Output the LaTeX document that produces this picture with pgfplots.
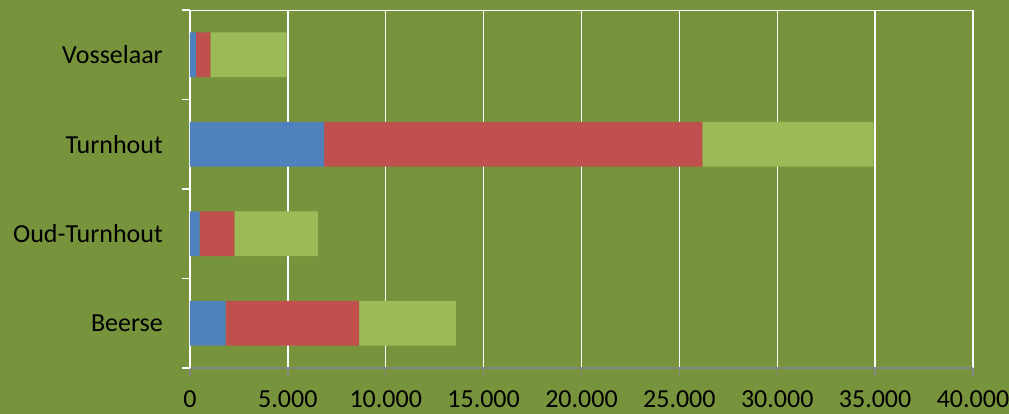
\documentclass[border=0pt]{standalone}
\usepackage{pgfplots}
\pgfplotsset{compat=1.18}
\usepackage{fontspec}
\setmainfont{Carlito}
\definecolor{bg}{HTML}{77933C}
\definecolor{sblue}{HTML}{4F81BD}
\definecolor{sred}{HTML}{C0504D}
\definecolor{sgreen}{HTML}{9BBB59}
\definecolor{axgray}{HTML}{868686}
\begin{document}
\begin{tikzpicture}
\fill[bg] (-190bp,-46bp) rectangle (819bp,368bp);
\begin{axis}[
  at={(0,0)}, anchor=south west,
  scale only axis, width=783bp, height=358bp,
  xbar stacked, bar width=0.5,
  xmin=0, xmax=40000, ymin=-0.5, ymax=3.5,
  xtick={0,5000,10000,15000,20000,25000,30000,35000,40000},
  scaled x ticks=false,
  /pgf/number format/1000 sep={.},
  /pgf/number format/assume math mode=true,
  ytick={0,1,2,3},
  yticklabels={Beerse,Oud-Turnhout,Turnhout,Vosselaar},
  minor ytick={-0.5,0.5,1.5,2.5,3.5},
  axis lines*=left,
  x axis line style={axgray, line width=1.5bp},
  y axis line style={white, line width=1.5bp},
  xmajorgrids, major x grid style={white, line width=1.5bp},
  tick align=outside,
  major tick length=8bp, minor tick length=8bp,
  xtick style={axgray, line width=1.5bp},
  major y tick style={draw=none},
  minor y tick style={white, line width=1.5bp},
  ticklabel style={font=\fontsize{26bp}{30bp}\selectfont, text=black, inner sep=0pt},
  xticklabel style={yshift=-14bp},
  yticklabel style={xshift=-19bp},
]
\addplot[fill=sblue, draw=none] coordinates {(1825,0) (495,1) (6850,2) (300,3)};
\addplot[fill=sred, draw=none] coordinates {(6815,0) (1770,1) (19325,2) (740,3)};
\addplot[fill=sgreen, draw=none] coordinates {(4940,0) (4265,1) (8745,2) (3900,3)};
\draw[white, line width=1.5bp] (rel axis cs:0,1) -- (rel axis cs:1,1);
\end{axis}
\pgfresetboundingbox
\useasboundingbox (-190bp,-46bp) rectangle (819bp,368bp);
\end{tikzpicture}
\end{document}
